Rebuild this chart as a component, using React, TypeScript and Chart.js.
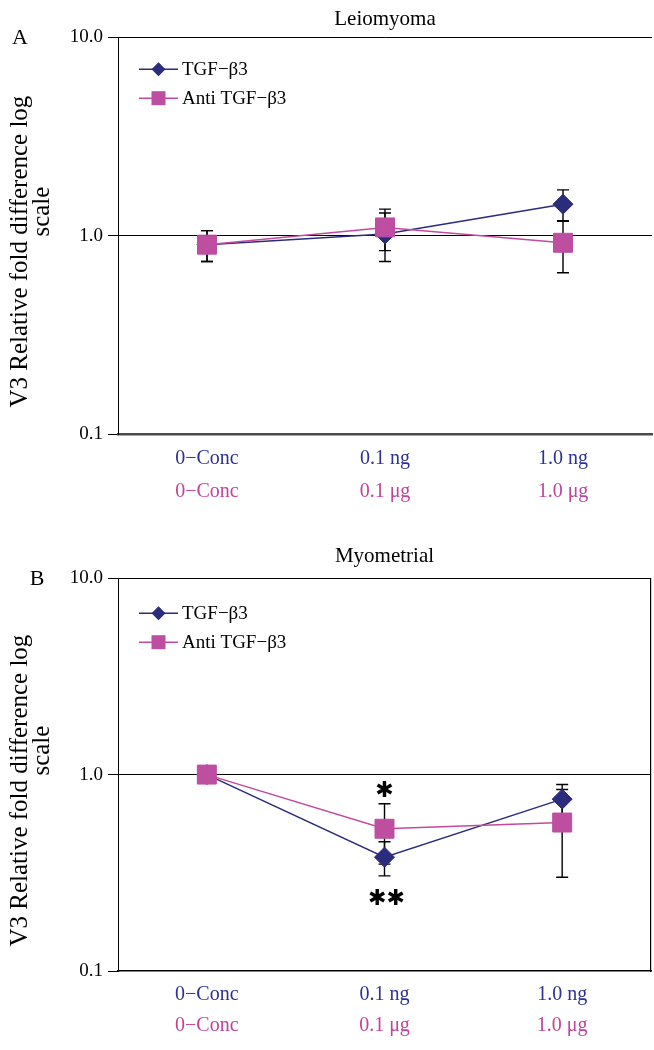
import React, { useEffect, useRef } from 'react';
import { Chart, registerables } from 'chart.js';

Chart.register(...registerables);

// ---------- data ----------
const tgfLabels = ['0−Conc', '0.1 ng', '1.0 ng'];
const antiLabels = ['0−Conc', '0.1 μg', '1.0 μg'];
const seriesNames = ['TGF−β3', 'Anti TGF−β3'];
const yTicks = [0.1, 1, 10];
const yTickText = ['0.1', '1.0', '10.0'];
const yTitle = ['V3 Relative fold difference log', 'scale'];

const leioTGF = [0.9, 1.02, 1.44];
const leioTGFErr = [0.16, 0.28, 0.26];
const leioAnti = [0.9, 1.1, 0.92];
const leioAntiErr = [0.16, 0.26, 0.27];

const myoTGF = [1.0, 0.38, 0.75];
const myoTGFErr = [0, 0.075, 0.14];
const myoAnti = [1.0, 0.53, 0.57];
const myoAntiErr = [0, 0.18, 0.27];

const myoStars = [
  { dataset: 1, index: 1, text: '✱', side: 'above' },
  { dataset: 0, index: 1, text: '✱✱', side: 'below' },
];

// ---------- styles ----------
const SERIF = '"Liberation Serif", "Times New Roman", serif';
const NAVY = '#2B2C7C';
const PINK = '#BE4E9F';
const PINK_LINE = '#C4499F';
const BLUE_TXT = '#2E3192';
const PINK_TXT = '#C0439B';

const errorBarPlugin = {
  id: 'errorBars',
  beforeDatasetsDraw(chart: any) {
    const { ctx } = chart;
    const yS = chart.scales.y;
    chart.data.datasets.forEach((ds: any, di: number) => {
      const errs = ds.errors;
      if (!errs) return;
      const meta = chart.getDatasetMeta(di);
      ctx.save();
      ctx.strokeStyle = '#000';
      ctx.lineWidth = 1.4;
      meta.data.forEach((pt: any, i: number) => {
        const e = errs[i];
        if (!e) return;
        const v = ds.data[i];
        const x = pt.x;
        const y1 = yS.getPixelForValue(v + e);
        const y2 = yS.getPixelForValue(v - e);
        ctx.beginPath();
        ctx.moveTo(x, y1);
        ctx.lineTo(x, y2);
        ctx.moveTo(x - 6, y1);
        ctx.lineTo(x + 6, y1);
        ctx.moveTo(x - 6, y2);
        ctx.lineTo(x + 6, y2);
        ctx.stroke();
      });
      ctx.restore();
    });
  },
};

const innerLegendPlugin = {
  id: 'innerLegend',
  afterDraw(chart: any) {
    const { ctx, chartArea } = chart;
    const opts = chart.options.plugins.innerLegend || {};
    const top = opts.top ?? 33;
    chart.data.datasets.forEach((ds: any, i: number) => {
      const y = chartArea.top + top + 29 * i;
      const x0 = chartArea.left + 21;
      const x1 = chartArea.left + 60;
      const xm = (x0 + x1) / 2;
      ctx.save();
      ctx.strokeStyle = ds.borderColor;
      ctx.lineWidth = 1.5;
      ctx.beginPath();
      ctx.moveTo(x0, y);
      ctx.lineTo(x1, y);
      ctx.stroke();
      ctx.fillStyle = ds.pointBackgroundColor;
      ctx.beginPath();
      if (ds.pointStyle === 'rectRot') {
        ctx.moveTo(xm, y - 7);
        ctx.lineTo(xm + 7, y);
        ctx.lineTo(xm, y + 7);
        ctx.lineTo(xm - 7, y);
        ctx.closePath();
      } else {
        ctx.rect(xm - 7, y - 7, 14, 14);
      }
      ctx.fill();
      ctx.fillStyle = '#000';
      ctx.font = `19px ${SERIF}`;
      ctx.textAlign = 'left';
      ctx.textBaseline = 'middle';
      ctx.fillText(ds.label, x1 + 4, y + 1);
      ctx.restore();
    });
  },
};

const panelTextPlugin = {
  id: 'panelText',
  afterDraw(chart: any) {
    const o = chart.options.plugins.panelText;
    if (!o) return;
    const { ctx, chartArea } = chart;
    ctx.save();
    ctx.fillStyle = '#000';
    ctx.textAlign = 'center';
    ctx.textBaseline = 'middle';
    // panel letter
    ctx.font = `22px ${SERIF}`;
    ctx.fillText(o.letter, o.letterX, chartArea.top + 1);
    // rotated y-axis title
    const mid = (chartArea.top + chartArea.bottom) / 2;
    ctx.font = `25px ${SERIF}`;
    o.yTitle.forEach((line: string, i: number) => {
      ctx.save();
      ctx.translate(20 + 22 * i, mid + o.titleShift[i]);
      ctx.rotate(-Math.PI / 2);
      ctx.fillText(line, 0, 0);
      ctx.restore();
    });
    ctx.restore();
  },
};

const starsPlugin = {
  id: 'stars',
  afterDraw(chart: any) {
    const o = chart.options.plugins.stars;
    if (!o || !o.marks) return;
    const { ctx } = chart;
    const yS = chart.scales.y;
    ctx.save();
    ctx.fillStyle = '#000';
    ctx.font = `22px "DejaVu Sans", sans-serif`;
    ctx.textAlign = 'center';
    ctx.textBaseline = 'middle';
    o.marks.forEach((m: any) => {
      const ds = chart.data.datasets[m.dataset];
      const pt = chart.getDatasetMeta(m.dataset).data[m.index];
      const v = ds.data[m.index];
      const e = ds.errors[m.index];
      const y = m.side === 'above' ? yS.getPixelForValue(v + e) - 13 : yS.getPixelForValue(v - e) + 23;
      ctx.fillText(m.text, pt.x + (m.side === 'above' ? 0 : 2), y);
    });
    ctx.restore();
  },
};

type PanelProps = {
  top: number;
  height: number;
  title: string;
  letter: string;
  letterX: number;
  tgf: number[];
  tgfErr: number[];
  anti: number[];
  antiErr: number[];
  stars?: any[];
  rightBorder: boolean;
  titlePad: { top: number; bottom: number };
  padBottom: number;
  xH: number;
  x2H: number;
  xPad: number;
  x2Pad: number;
  xBorder: { color: string; width: number };
  legendTop: number;
  titleShift: number[];
};

function Panel(p: PanelProps) {
  const ref = useRef<HTMLCanvasElement | null>(null);
  useEffect(() => {
    if (!ref.current) return;
    const tickFont = { family: SERIF, size: 19, weight: 'normal' as const };
    const xFont = { family: SERIF, size: 20, weight: 'normal' as const };
    const noPad = (s: any) => {
      s.paddingLeft = 0;
      s.paddingRight = 0;
    };
    const scales: any = {
      x: {
        type: 'category',
        position: 'bottom',
        weight: 0,
        offset: true,
        grid: { display: false, drawTicks: false },
        border: { display: true, color: p.xBorder.color, width: p.xBorder.width },
        ticks: { color: BLUE_TXT, font: xFont, padding: p.xPad, autoSkip: false, maxRotation: 0 },
        afterFit: (s: any) => {
          s.height = p.xH;
          noPad(s);
        },
      },
      x2: {
        type: 'category',
        position: 'bottom',
        weight: 1,
        labels: antiLabels,
        offset: true,
        grid: { display: false, drawTicks: false },
        border: { display: false },
        ticks: { color: PINK_TXT, font: xFont, padding: p.x2Pad, autoSkip: false, maxRotation: 0 },
        afterFit: (s: any) => {
          s.height = p.x2H;
          noPad(s);
        },
      },
      y: {
        type: 'logarithmic',
        position: 'left',
        min: 0.1,
        max: 10,
        afterBuildTicks: (s: any) => {
          s.ticks = yTicks.map((v) => ({ value: v }));
        },
        afterFit: (s: any) => {
          s.width = 118;
        },
        ticks: {
          color: '#000',
          font: tickFont,
          padding: 5,
          callback: (_v: any, i: number) => yTickText[i],
        },
        grid: {
          color: (c: any) => (c.tick && c.tick.value === 0.1 ? 'rgba(0,0,0,0)' : '#000'),
          tickColor: '#000',
          tickLength: 10,
          lineWidth: 1,
        },
        border: { display: true, color: '#000', width: 1 },
        title: { display: false },
      },
    };
    if (p.rightBorder) {
      scales.y2 = {
        type: 'linear',
        position: 'right',
        display: true,
        ticks: { display: false },
        grid: { display: false, drawTicks: false },
        border: { display: true, color: '#000', width: 1.2 },
        afterFit: (s: any) => {
          s.width = 0;
        },
      };
    }
    const chart = new Chart(ref.current, {
      type: 'line',
      data: {
        labels: tgfLabels,
        datasets: [
          {
            label: seriesNames[0],
            data: p.tgf,
            errors: p.tgfErr,
            order: 1,
            borderColor: NAVY,
            backgroundColor: NAVY,
            borderWidth: 1.5,
            pointStyle: 'rectRot',
            pointRadius: 10,
            pointBackgroundColor: NAVY,
            pointBorderColor: NAVY,
            pointBorderWidth: 1,
            tension: 0,
            fill: false,
          } as any,
          {
            label: seriesNames[1],
            data: p.anti,
            errors: p.antiErr,
            order: 0,
            borderColor: PINK_LINE,
            backgroundColor: PINK,
            borderWidth: 1.5,
            pointStyle: 'rect',
            pointRadius: 13.4,
            pointBackgroundColor: PINK,
            pointBorderColor: PINK,
            pointBorderWidth: 1,
            tension: 0,
            fill: false,
          } as any,
        ],
      },
      options: {
        responsive: false,
        animation: false,
        devicePixelRatio: 1,
        layout: {
          autoPadding: false,
          padding: { left: 0, right: p.rightBorder ? 3 : 2, top: 0, bottom: p.padBottom },
        },
        scales,
        plugins: {
          legend: { display: false },
          tooltip: { enabled: false },
          title: {
            display: true,
            text: p.title,
            fullSize: false,
            color: '#000',
            font: { family: SERIF, size: 21, weight: 'normal' },
            padding: p.titlePad,
          },
          innerLegend: { top: p.legendTop },
          panelText: { letter: p.letter, letterX: p.letterX, yTitle, titleShift: p.titleShift },
          stars: { marks: p.stars || [] },
        } as any,
      },
      plugins: [errorBarPlugin, innerLegendPlugin, panelTextPlugin, starsPlugin],
    });
    return () => chart.destroy();
  }, []);
  return (
    <canvas
      ref={ref}
      width={654}
      height={p.height}
      style={{ position: 'absolute', left: 0, top: p.top, width: 654, height: p.height }}
    />
  );
}

export default function App() {
  return (
    <div style={{ position: 'absolute', left: 0, top: 0, width: 654, height: 1050, background: '#fff' }}>
      <Panel
        top={0}
        height={520}
        title="Leiomyoma"
        letter="A"
        letterX={20}
        tgf={leioTGF}
        tgfErr={leioTGFErr}
        anti={leioAnti}
        antiErr={leioAntiErr}
        rightBorder={false}
        titlePad={{ top: 7, bottom: 5 }}
        padBottom={10}
        xH={36}
        x2H={40}
        xPad={13}
        x2Pad={10}
        xBorder={{ color: '#4A4A4A', width: 2.5 }}
        legendTop={32}
        titleShift={[16, -24]}
      />
      <Panel
        top={540}
        height={510}
        title="Myometrial"
        letter="B"
        letterX={37}
        tgf={myoTGF}
        tgfErr={myoTGFErr}
        anti={myoAnti}
        antiErr={myoAntiErr}
        stars={myoStars}
        rightBorder={true}
        titlePad={{ top: 4, bottom: 9 }}
        padBottom={5}
        xH={34}
        x2H={40}
        xPad={12}
        x2Pad={9}
        xBorder={{ color: '#000', width: 1.5 }}
        legendTop={35}
        titleShift={[16, -24]}
      />
    </div>
  );
}
